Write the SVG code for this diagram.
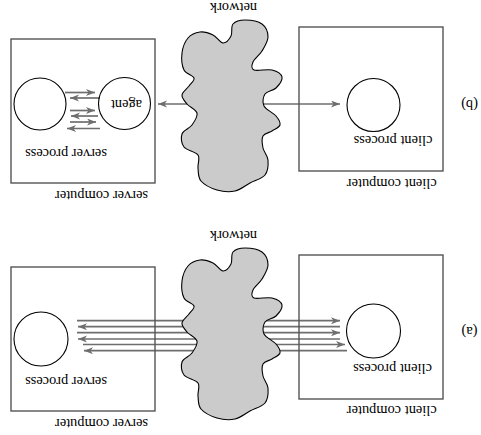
<svg xmlns="http://www.w3.org/2000/svg" width="481" height="435" viewBox="0 0 481 435">
<style>
.box{fill:none;stroke:#555;stroke-width:1.4}
.proc{fill:none;stroke:#000;stroke-width:1.1}
.cloud{fill:#cbcbcb;stroke:#000;stroke-width:1.1}
.conn{stroke:#6e6e6e;stroke-width:1.7;fill:none}
.lbl{font-family:"Liberation Serif","Times New Roman",serif;font-size:14.4px;fill:#000;text-anchor:middle}
</style>
<defs>
<marker id="ah" markerUnits="userSpaceOnUse" markerWidth="12" markerHeight="10" refX="9" refY="3.5" orient="auto"><path d="M0,0 L9,3.5 L0,7 L2.5,3.5 Z" fill="#6e6e6e"/></marker>
<path id="cloudShape" d="M245,20 C249.83,20 258.17,21.17 262,24 S268,32.5 268,37 S264.5,46.83 262,51 S254.33,58.83 253,62 S250.83,68.67 254,70 S267.33,68.83 272,70 S281.33,74 282,77 S278.83,85.17 276,88 S267,91 265,94 S262.17,102.33 264,106 S273.33,112.83 276,116 S280.67,122.5 280,125 S274.83,129.17 272,131 S264.5,133.17 263,136 S262.17,144 263,148 S267.67,155.5 268,160 S268,171.17 265,175 S255,180.33 250,183 S240.5,189.83 235,191 S222.67,191.67 217,190 S204.17,184.67 201,181 S198.5,172.33 198,168 S200.33,158.5 198,155 S186.67,150.5 184,147 S180.67,137.67 182,134 S189.5,128.5 192,125 S197.83,116.5 197,113 S189.5,107 187,104 S181.67,98 182,95 S187,88.83 189,86 S194.83,80.67 194,78 S186,74.17 184,70 S181.33,58.33 182,53 S185,41.5 188,38 S195.83,32.5 200,32 S209.17,33.17 213,35 S220,42.83 223,43 S229.33,39.17 231,36 S230.67,26.67 233,24 S240.17,20 245,20 Z"/>
</defs>

<g id="connectors">
  <!-- (b) -->
  <line class="conn" x1="200" y1="104" x2="158" y2="104" marker-end="url(#ah)"/>
  <line class="conn" x1="250" y1="104" x2="340" y2="104" marker-end="url(#ah)"/>
  <line class="conn" x1="65" y1="92.5" x2="95" y2="92.5" marker-end="url(#ah)"/>
  <line class="conn" x1="100" y1="98" x2="70" y2="98" marker-end="url(#ah)"/>
  <line class="conn" x1="70" y1="110.5" x2="95" y2="110.5" marker-end="url(#ah)"/>
  <line class="conn" x1="98" y1="116" x2="71" y2="116" marker-end="url(#ah)"/>
  <line class="conn" x1="70" y1="122" x2="96" y2="122" marker-end="url(#ah)"/>
  <line class="conn" x1="100" y1="128.5" x2="67" y2="128.5" marker-end="url(#ah)"/>
  <!-- (a) -->
  <line class="conn" x1="77" y1="320.7" x2="340" y2="320.7" marker-end="url(#ah)"/>
  <line class="conn" x1="340" y1="326.7" x2="78" y2="326.7" marker-end="url(#ah)"/>
  <line class="conn" x1="77" y1="332.7" x2="340" y2="332.7" marker-end="url(#ah)"/>
  <line class="conn" x1="340" y1="339" x2="78" y2="339" marker-end="url(#ah)"/>
  <line class="conn" x1="83" y1="344.5" x2="345" y2="344.5" marker-end="url(#ah)"/>
  <line class="conn" x1="347" y1="350.7" x2="84" y2="350.7" marker-end="url(#ah)"/>
</g>

<!-- (b) -->
<g id="b-server-computer">
  <rect class="box" x="11" y="39" width="144" height="144"/>
  <text class="lbl" x="101.5" y="190.5" transform="rotate(180 101.5 190.5)">server computer</text>
</g>
<g id="b-server-process">
  <circle class="proc" cx="40" cy="104" r="26"/>
  <text class="lbl" x="66" y="148.5" transform="rotate(180 66 148.5)">server process</text>
</g>
<g id="b-agent">
  <circle class="proc" cx="124.5" cy="103.5" r="26"/>
  <text class="lbl" x="126.5" y="100" transform="rotate(180 126.5 100)">agent</text>
</g>
<g id="b-network">
  <use href="#cloudShape" class="cloud"/>
  <text class="lbl" x="233.5" y="2.5" transform="rotate(180 233.5 2.5)">network</text>
</g>
<g id="b-client-computer">
  <rect class="box" x="299" y="27" width="144" height="144"/>
  <text class="lbl" x="391.7" y="178.5" transform="rotate(180 391.7 178.5)">client computer</text>
</g>
<g id="b-client-process">
  <circle class="proc" cx="373.5" cy="105" r="26.5"/>
  <text class="lbl" x="393" y="136" transform="rotate(180 393 136)">client process</text>
</g>
<g id="b-label">
  <text class="lbl" x="469.5" y="99.5" transform="rotate(180 469.5 99.5)">(b)</text>
</g>

<!-- (a) -->
<g id="a-server-computer">
  <rect class="box" x="11" y="267" width="144" height="144"/>
  <text class="lbl" x="101.5" y="418.5" transform="rotate(180 101.5 418.5)">server computer</text>
</g>
<g id="a-server-process">
  <circle class="proc" cx="41" cy="339" r="27"/>
  <text class="lbl" x="66" y="376.5" transform="rotate(180 66 376.5)">server process</text>
</g>
<g id="a-network">
  <use href="#cloudShape" class="cloud" transform="translate(0 228)"/>
  <text class="lbl" x="233.5" y="230.5" transform="rotate(180 233.5 230.5)">network</text>
</g>
<g id="a-client-computer">
  <rect class="box" x="299" y="255" width="144" height="144"/>
  <text class="lbl" x="391.7" y="406" transform="rotate(180 391.7 406)">client computer</text>
</g>
<g id="a-client-process">
  <circle class="proc" cx="373.5" cy="331" r="27"/>
  <text class="lbl" x="392.5" y="364" transform="rotate(180 392.5 364)">client process</text>
</g>
<g id="a-label">
  <text class="lbl" x="469.5" y="327" transform="rotate(180 469.5 327)">(a)</text>
</g>
</svg>
